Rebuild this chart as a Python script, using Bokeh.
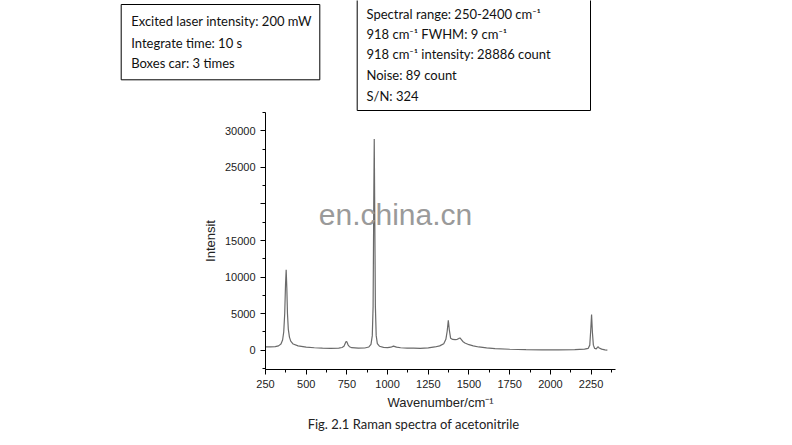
from bokeh.plotting import figure
from bokeh.models import SingleIntervalTicker, BoxAnnotation, Label, Range1d, LinearAxis
from bokeh.embed import file_html
from bokeh.resources import INLINE

# ---- data ----
wavenumber = [250, 280, 310, 330, 345, 355, 362, 368, 373, 377, 381, 385, 390, 397, 405,
              420, 450, 500, 550, 600, 650, 700, 720, 732, 740, 745, 750, 757, 766, 780,
              820, 860, 885, 898, 906, 911, 915, 918, 921, 925, 930, 937, 950, 975, 1000,
              1020, 1036, 1055, 1080, 1120, 1160, 1200, 1250, 1290, 1320, 1345, 1358, 1366,
              1373, 1379, 1387, 1400, 1415, 1428, 1438, 1445, 1452, 1462, 1475, 1500, 1526,
              1560, 1608, 1660, 1750, 1850, 1950, 2050, 2150, 2210, 2232, 2242, 2248, 2253,
              2258, 2264, 2272, 2282, 2290, 2294, 2300, 2315, 2335, 2350]
intensity = [450, 460, 500, 600, 850, 1400, 2500, 5000, 9000, 11000, 8500, 5000, 2900, 1800, 1250,
             850, 600, 420, 340, 290, 270, 300, 380, 550, 950, 1200, 1150, 750, 480, 350,
             280, 310, 450, 800, 2000, 6000, 20000, 28886, 19000, 6000, 2000, 900, 550, 400, 360,
             420, 560, 420, 340, 300, 280, 260, 330, 450, 600, 900, 1500, 2600,
             4100, 2800, 1650, 1480, 1460, 1500, 1620, 1680, 1500, 1200, 1000, 760, 600,
             450, 320, 230, 140, 90, 60, 60, 80, 150, 250, 700, 2800, 4870,
             2500, 700, 250, 200, 420, 480, 300, 150, 60, 30]

x_start, x_end = 250, 2400          # x axis extent
y_start, y_end = -2630, 32500       # y axis extent
x_tick_interval = 250
y_tick_interval = 5000
hidden_y_labels = {20000: ""}       # hidden under the watermark in the reference

info_left = ["Excited laser intensity: 200 mW",
             "Integrate time: 10 s",
             "Boxes car: 3 times"]
info_right = ["Spectral range: 250-2400 cm\u207b\u00b9",
              "918 cm\u207b\u00b9 FWHM: 9 cm\u207b\u00b9",
              "918 cm\u207b\u00b9 intensity: 28886 count",
              "Noise: 89 count",
              "S/N: 324"]
x_label = "Wavenumber/cm\u207b\u00b9"
y_label = "Intensit"
caption = "Fig. 2.1 Raman spectra of acetonitrile"
watermark = "en.china.cn"

TEXT_FONT = "Lato"
AXIS_FONT = "Liberation Sans"

# canvas size and where the axes box sits on it (pixels)
W, H = 792, 445
AX_L, AX_R, AX_T, AX_B = 265, 615, 112, 369

sx = (x_end - x_start) / (AX_R - AX_L)   # data units per pixel
sy = (y_end - y_start) / (AX_B - AX_T)


def dx(px):
    return x_start + (px - AX_L) * sx


def dy(py):
    return y_start + (AX_B - py) * sy


# the frame covers the whole canvas; axes are pinned inside it
p = figure(width=W, height=H,
           x_range=Range1d(dx(0), dx(W)), y_range=Range1d(dy(H), dy(0)),
           output_backend="svg", toolbar_location=None,
           x_axis_location=None, y_axis_location=None,
           min_border=0, outline_line_color=None)
p.grid.visible = False

p.line(wavenumber, intensity, line_color="#6a6a6a", line_width=1.2)

xaxis = LinearAxis(fixed_location=y_start, bounds=(x_start, x_end),
                   ticker=SingleIntervalTicker(interval=x_tick_interval, num_minor_ticks=2),
                   axis_label=x_label)
yaxis = LinearAxis(fixed_location=x_start, bounds=(y_start, y_end),
                   ticker=SingleIntervalTicker(interval=y_tick_interval, num_minor_ticks=2),
                   axis_label=y_label, major_label_overrides=hidden_y_labels)

for ax in (xaxis, yaxis):
    ax.major_tick_in = 0
    ax.major_tick_out = 5
    ax.minor_tick_in = 0
    ax.minor_tick_out = 3
    ax.axis_line_color = "black"
    ax.major_tick_line_color = "black"
    ax.minor_tick_line_color = "black"
    ax.major_label_text_font = AXIS_FONT
    ax.major_label_text_font_size = "11px"
    ax.major_label_text_color = "#222222"
    ax.axis_label_text_font = AXIS_FONT
    ax.axis_label_text_font_size = "13px"
    ax.axis_label_text_font_style = "normal"
    ax.axis_label_text_color = "#222222"
    ax.axis_label_standoff = 4

p.add_layout(xaxis, "below")
p.add_layout(yaxis, "left")

# watermark
p.add_layout(Label(x=dx(395), y=dy(214), text=watermark, text_align="center",
                   text_baseline="middle", text_font=AXIS_FONT,
                   text_font_size="30px", text_color="#9a9a9a"))

# info boxes
p.add_layout(BoxAnnotation(left=dx(120.7), right=dx(319.3), top=dy(4), bottom=dy(79.3),
                           fill_color=None, line_color="black", line_alpha=1.0,
                           line_width=1))
p.add_layout(BoxAnnotation(left=dx(356.7), right=dx(590), top=dy(-10), bottom=dy(110),
                           fill_color=None, line_color="black", line_alpha=1.0,
                           line_width=1))

for txt, cy in zip(info_left, [20.7, 42.7, 62.3]):
    p.add_layout(Label(x=dx(130.7), y=dy(cy), text=txt, text_align="left",
                       text_baseline="middle", text_font=TEXT_FONT,
                       text_font_size="13px", text_color="#111111"))
for txt, cy in zip(info_right, [13.3, 33.3, 53.3, 74, 95]):
    p.add_layout(Label(x=dx(366), y=dy(cy), text=txt, text_align="left",
                       text_baseline="middle", text_font=TEXT_FONT,
                       text_font_size="13px", text_color="#111111"))

# caption
p.add_layout(Label(x=dx(413), y=dy(423), text=caption, text_align="center",
                   text_baseline="middle", text_font=TEXT_FONT,
                   text_font_size="13px", text_color="#222222"))

open("out.html", "w").write(file_html(p, INLINE))
